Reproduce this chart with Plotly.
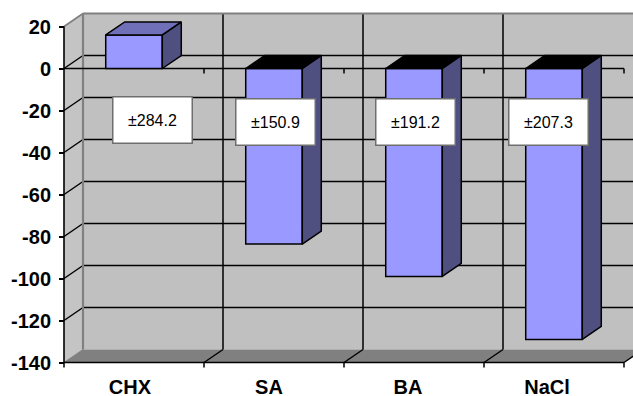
import plotly.graph_objects as go

categories = ["CHX", "SA", "BA", "NaCl"]
values = [16, -83.6, -99, -129]
error_labels = ["±284.2", "±150.9", "±191.2", "±207.3"]
label_x = [0.132, 1.01, 2.01, 2.96]
label_y = [-24.5, -25.5, -25.5, -25.5]
category_label_x = [-0.029, 0.964, 1.957, 2.95]
y_ticks = [20, 0, -20, -40, -60, -80, -100, -120, -140]
y_tick_text = ["20", "0", "-20", "-40", "-60", "-80", "-100", "-120", "-140"]

W, H = 633, 396
PX_X = 140.0
PX_Y = 2.1
X0_PX, Y0_PX = 64.0, 68.5
DX = 19.0 / PX_X
DY = 13.0 / PX_Y
XL, XR = -0.5, 3.5
YT, YB = 20, -140
BAR_W = 0.404

x_range = [XL - X0_PX / PX_X, XL + (W - X0_PX) / PX_X]
y_range = [-(H - Y0_PX) / PX_Y, Y0_PX / PX_Y]

WALL = "#C0C0C0"
FLOOR = "#808080"
EDGE = "#808080"
FRONT = "#9999FF"
SIDE = "#4F4F80"
TOP = "#7070B8"


def path(pts):
    return "M " + " L ".join(f"{x:.4f},{y:.4f}" for x, y in pts) + " Z"


def area(pts, fill):
    return dict(type="path", path=path(pts), fillcolor=fill, line=dict(width=0), layer="below")


def seg(x0, y0, x1, y1, color="black", width=1.5):
    return dict(type="line", x0=x0, y0=y0, x1=x1, y1=y1, line=dict(color=color, width=width), layer="below")


shapes = [
    area([(XL + DX, YB + DY), (XR + DX, YB + DY), (XR + DX, YT + DY), (XL + DX, YT + DY)], WALL),
    area([(XL, YB), (XL + DX, YB + DY), (XL + DX, YT + DY), (XL, YT)], "#C4C4C4"),
    area([(XL, YB), (XR, YB), (XR + DX, YB + DY), (XL + DX, YB + DY)], FLOOR),
]
for t in y_ticks[1:-1]:
    shapes.append(seg(XL, t, XL + DX, t + DY))
    shapes.append(seg(XL + DX, t + DY, XR + DX, t + DY))
for b in [0.5, 1.5, 2.5]:
    shapes.append(seg(b + DX, YB + DY, b + DX, YT + DY))
for b in [0.5, 1.5, 2.5, 3.5]:
    shapes.append(seg(b, YB, b + DX, YB + DY))
shapes += [
    seg(XL + DX, YB + DY, XL + DX, YT + DY, EDGE, 2.2),
    seg(XL + DX, YT + DY, XR + DX, YT + DY, EDGE, 1.8),
    seg(XL, YT, XL + DX, YT + DY, EDGE, 1.8),
    seg(XL, YB, XL + DX, YB + DY, EDGE, 1),
    seg(XL, YB, XL, YT, "black", 1.6),
    seg(XL, YB, XR, YB, "black", 1.6),
    seg(XL, 0, XR, 0, "black", 1.6),
]
for b in [0.5, 1.5, 2.5, 3.5]:
    shapes.append(seg(b, 0, b, -2.4))
    shapes.append(seg(b, YB, b, YB - 2.4))
shapes.append(seg(XL, YB, XL, YB - 2.4))

fig = go.Figure()
fig.add_trace(go.Bar(
    x=list(range(len(categories))), y=values, width=BAR_W,
    marker=dict(color=FRONT, line=dict(color="black", width=1.5)),
    hoverinfo="skip",
))

for i, v in enumerate(values):
    l, r = i - BAR_W / 2, i + BAR_W / 2
    hi = max(v, 0)
    top_fill = TOP if v > 0 else "black"
    fig.add_trace(go.Scatter(
        x=[r, r + DX, r + DX, r, r], y=[v, v + DY, DY, 0, v],
        mode="lines", fill="toself", fillcolor=SIDE,
        line=dict(color="black", width=1.5), hoverinfo="skip",
    ))
    fig.add_trace(go.Scatter(
        x=[l, r, r + DX, l + DX, l], y=[hi, hi, hi + DY, hi + DY, hi],
        mode="lines", fill="toself", fillcolor=top_fill,
        line=dict(color="black", width=1.5), hoverinfo="skip",
    ))

annotations = [
    dict(x=x, y=y, xref="x", yref="y", text=t, showarrow=False,
         font=dict(family="Liberation Sans", size=16, color="black"),
         bgcolor="white", bordercolor="#6E6E6E", borderwidth=1.5,
         width=76, height=43, align="center", valign="middle")
    for x, y, t in zip(label_x, label_y, error_labels)
]

fig.update_layout(
    width=W, height=H, autosize=False,
    margin=dict(l=0, r=0, t=0, b=0, pad=0),
    paper_bgcolor="white", plot_bgcolor="white",
    showlegend=False, shapes=shapes, annotations=annotations,
    font=dict(family="Liberation Sans", color="black"),
    xaxis=dict(
        range=x_range, domain=[0, 1], anchor="free", position=(H - 363.0) / H,
        tickmode="array", tickvals=category_label_x,
        ticktext=categories, tickfont=dict(family="Liberation Sans", size=20, color="black", weight="bold"),
        ticks="outside", ticklen=6, tickcolor="rgba(0,0,0,0)",
        showgrid=False, zeroline=False, showline=False, automargin=False,
    ),
    yaxis=dict(
        range=y_range, domain=[0, 1], anchor="free", position=X0_PX / W,
        tickmode="array", tickvals=y_ticks, ticktext=y_tick_text,
        tickfont=dict(family="Liberation Sans", size=20, color="black", weight="bold"),
        ticks="outside", ticklen=5, tickwidth=1.5, tickcolor="black", ticklabelstandoff=4,
        showgrid=False, zeroline=False, showline=False, automargin=False,
    ),
)

fig.write_html("out.html", config=dict(displayModeBar=False),
               post_script="document.body.style.margin='0';document.body.style.overflow='hidden';")
